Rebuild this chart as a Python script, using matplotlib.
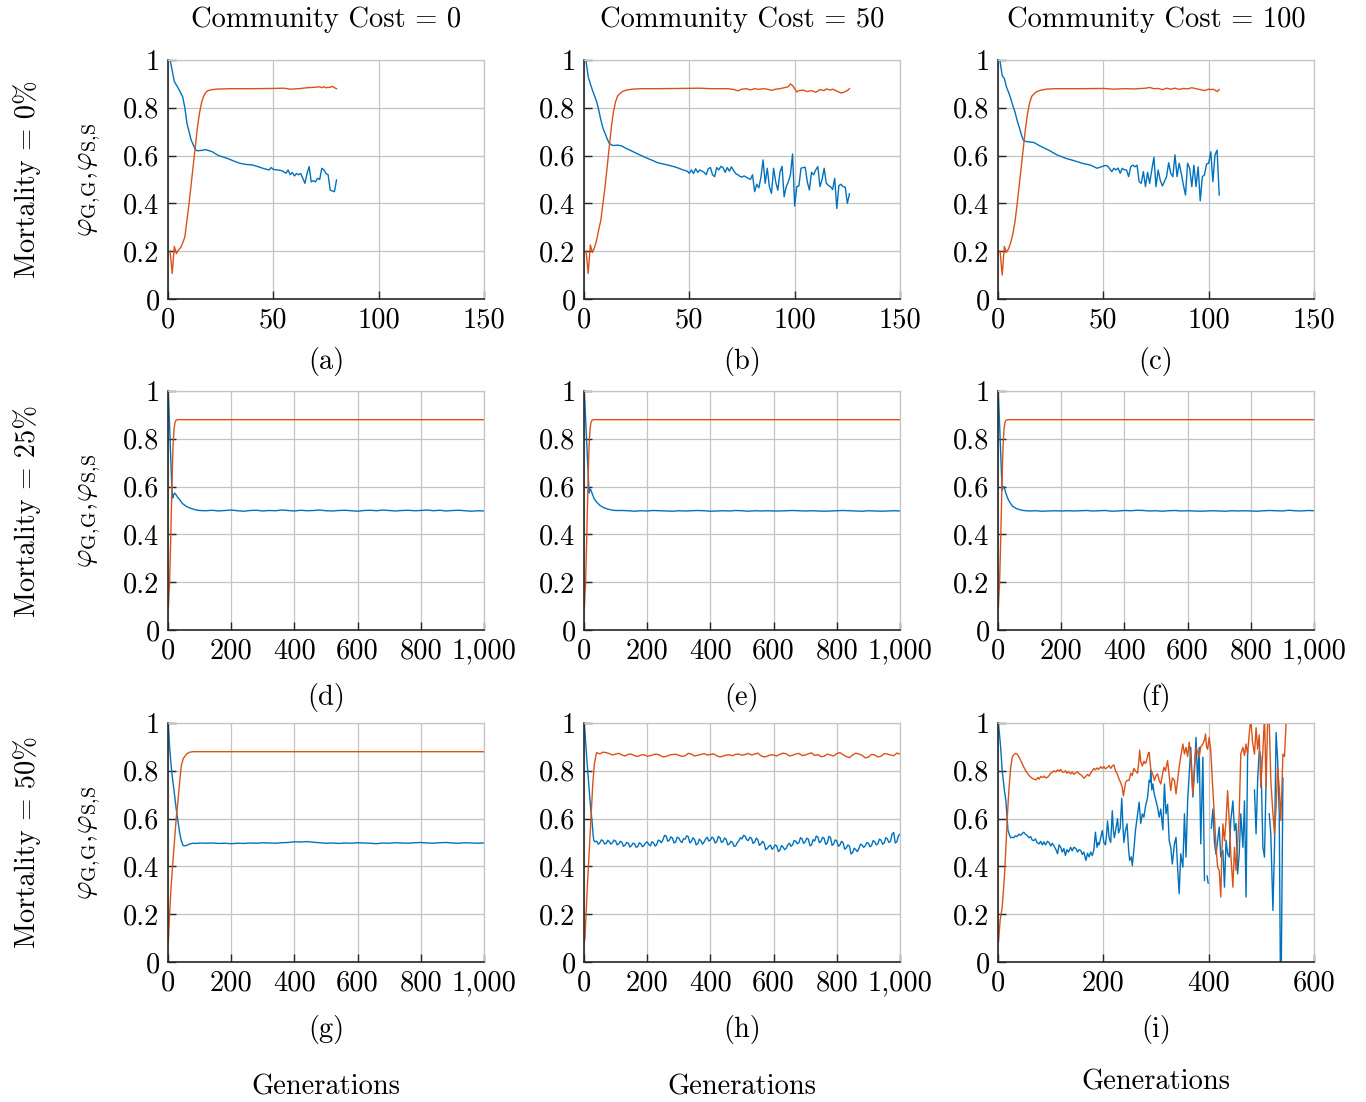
import numpy as np
import matplotlib.pyplot as plt

# MATLAB-style colours used in the original figure
BLUE = '#0072BD'
ORANGE = '#D95319'
GRID = '#c4c4c4'

# ---------------- data ----------------
# row 1 (mortality 0%), generations start at 1
a_gen_orange = [1, 2, 3, 4, 5, 6, 7, 8, 9, 10, 11, 12, 13, 14, 15, 16, 17, 18, 19, 21, 23, 26, 30, 40,
                50, 55, 58, 62, 66, 70, 72, 73, 74, 75, 77, 78, 79, 80]
a_orange = [0.20, 0.107, 0.22, 0.19, 0.205, 0.215, 0.235, 0.26, 0.33, 0.40, 0.48, 0.56, 0.64, 0.72,
            0.78, 0.825, 0.85, 0.865, 0.872, 0.876, 0.878, 0.879, 0.880, 0.880, 0.881, 0.882, 0.878,
            0.880, 0.884, 0.886, 0.888, 0.884, 0.888, 0.884, 0.886, 0.890, 0.884, 0.880]
a_gen_blue = [1, 3, 5, 7, 8, 9, 11, 13, 14, 16, 18, 21, 24, 28, 31, 34, 37, 40, 43, 45, 47, 48, 49, 50,
              52, 54, 56, 57, 58, 59, 60, 61, 62, 63, 64, 65, 66, 67, 68, 69, 70, 71, 72, 73, 74, 75,
              76, 77, 78, 79, 80]
a_blue = [1.0, 0.91, 0.88, 0.845, 0.80, 0.735, 0.665, 0.625, 0.62, 0.622, 0.625, 0.616, 0.60, 0.589,
          0.578, 0.568, 0.563, 0.561, 0.553, 0.547, 0.542, 0.54, 0.55, 0.542, 0.54, 0.537, 0.526,
          0.54, 0.52, 0.53, 0.515, 0.525, 0.52, 0.525, 0.505, 0.484, 0.525, 0.554, 0.49, 0.495, 0.49,
          0.505, 0.50, 0.547, 0.54, 0.525, 0.52, 0.456, 0.452, 0.449, 0.498]

b_gen_orange = [1, 2, 3, 4, 5, 6, 7, 8, 9, 10, 11, 12, 13, 14, 15, 16, 18, 20, 23, 27, 35, 45, 55, 60,
                68, 71, 73, 75, 77, 79, 81, 83, 85, 87, 89, 91, 93, 95, 97, 98, 99, 100, 101, 102, 104,
                106, 108, 110, 112, 114, 115, 117, 118, 120, 122, 123, 125, 126]
b_orange = [0.20, 0.107, 0.226, 0.195, 0.215, 0.247, 0.29, 0.33, 0.40, 0.47, 0.553, 0.637, 0.72, 0.784,
            0.826, 0.85, 0.867, 0.874, 0.878, 0.880, 0.880, 0.881, 0.882, 0.880, 0.880, 0.877, 0.871,
            0.878, 0.880, 0.875, 0.880, 0.877, 0.880, 0.878, 0.873, 0.878, 0.880, 0.884, 0.888, 0.900,
            0.893, 0.880, 0.866, 0.872, 0.874, 0.868, 0.872, 0.865, 0.876, 0.872, 0.879, 0.874, 0.878,
            0.870, 0.862, 0.864, 0.872, 0.880]
b_gen_blue = [1, 2, 3, 4, 5, 6, 7, 8, 9, 10, 11, 12, 13, 14, 16, 18, 20, 22, 25, 28, 30, 33, 35, 38, 40,
              43, 45, 47, 49] + list(range(50, 127))
b_blue = [0.993, 0.93, 0.90, 0.874, 0.85, 0.826, 0.79, 0.749, 0.715, 0.693, 0.67, 0.651, 0.645, 0.642,
          0.644, 0.64, 0.63, 0.622, 0.609, 0.597, 0.589, 0.578, 0.57, 0.564, 0.56, 0.553, 0.547, 0.54,
          0.535,
          0.526, 0.54, 0.525, 0.545, 0.53, 0.54, 0.535, 0.53, 0.52, 0.545,
          0.55, 0.52, 0.512, 0.55, 0.54, 0.555, 0.55, 0.53, 0.55, 0.535,
          0.553, 0.538, 0.525, 0.52, 0.513, 0.51, 0.515, 0.51, 0.505, 0.50,
          0.52, 0.449, 0.48, 0.465, 0.51, 0.582, 0.484, 0.547, 0.47, 0.442,
          0.547, 0.49, 0.455, 0.53, 0.555, 0.428, 0.47, 0.49, 0.52, 0.607,
          0.389, 0.47, 0.473, 0.547, 0.55, 0.551, 0.49, 0.456, 0.53, 0.52,
          0.54, 0.554, 0.47, 0.50, 0.547, 0.485, 0.475, 0.47, 0.458, 0.505,
          0.379, 0.475, 0.48, 0.47, 0.468, 0.40, 0.44]

c_gen_orange = [1, 2, 3, 4, 5, 6, 7, 8, 9, 10, 11, 12, 13, 14, 15, 16, 18, 20, 23, 27, 40, 50, 55, 60,
                65, 70, 72, 74, 76, 78, 80, 82, 84, 86, 88, 90, 92, 94, 96, 98, 100, 101, 102, 103,
                104, 105]
c_orange = [0.20, 0.10, 0.22, 0.195, 0.21, 0.235, 0.27, 0.32, 0.39, 0.47, 0.55, 0.63, 0.71, 0.775,
            0.82, 0.848, 0.866, 0.873, 0.878, 0.880, 0.880, 0.881, 0.878, 0.880, 0.879, 0.882, 0.885,
            0.880, 0.881, 0.876, 0.882, 0.878, 0.882, 0.877, 0.881, 0.879, 0.884, 0.880, 0.876,
            0.872, 0.878, 0.876, 0.878, 0.874, 0.868, 0.876]
c_gen_blue = [1, 2, 3, 4, 5, 6, 7, 8, 9, 10, 11, 12, 13, 14, 17, 20, 24, 28, 32, 36, 40, 44, 47, 49] + \
    list(range(51, 106))
c_blue = [0.993, 0.935, 0.923, 0.888, 0.865, 0.84, 0.81, 0.784, 0.75, 0.721, 0.69, 0.665, 0.66, 0.658,
          0.655, 0.64, 0.623, 0.603, 0.589, 0.579, 0.568, 0.56, 0.547, 0.553,
          0.559, 0.556, 0.545, 0.533, 0.547, 0.54, 0.548, 0.526, 0.547, 0.54,
          0.54, 0.512, 0.553, 0.56, 0.553, 0.56, 0.491, 0.484, 0.533, 0.47,
          0.53, 0.484, 0.54, 0.593, 0.47, 0.54, 0.498, 0.473, 0.491, 0.512,
          0.57, 0.526, 0.512, 0.603, 0.512, 0.568, 0.526, 0.477, 0.435, 0.568,
          0.547, 0.47, 0.56, 0.47, 0.553, 0.411, 0.512, 0.519, 0.565, 0.568,
          0.616, 0.491, 0.603, 0.623, 0.435]

# rows 2 and 3: long runs; the flat tails are read every 20 generations from 120 on
tail_gen = list(range(120, 1001, 20))

dd_gen_orange = [1, 3, 5, 8, 11, 14, 16, 19, 22, 25, 30, 100, 300, 500, 700, 900, 1000]
dd_orange = [0.09, 0.15, 0.196, 0.35, 0.52, 0.68, 0.77, 0.84, 0.868, 0.877, 0.880, 0.880, 0.880, 0.880,
             0.880, 0.880, 0.880]

d_gen_blue = [1, 12, 15, 18, 21, 25, 30, 37, 45, 58, 70, 79, 90, 100] + tail_gen
d_blue = [1.0, 0.60, 0.552, 0.565, 0.573, 0.567, 0.556, 0.545, 0.53, 0.517, 0.51, 0.506, 0.502, 0.50,
          0.499, 0.501, 0.498, 0.500, 0.502,
          0.499, 0.497, 0.500, 0.501, 0.498,
          0.500, 0.499, 0.502, 0.500, 0.498,
          0.501, 0.499, 0.500, 0.502, 0.499,
          0.498, 0.500, 0.501, 0.499, 0.497,
          0.500, 0.501, 0.499, 0.502, 0.500,
          0.498, 0.500, 0.501, 0.499, 0.500,
          0.502, 0.499, 0.501, 0.498, 0.500,
          0.501, 0.499, 0.497, 0.499, 0.498]

e_gen_blue = [1, 16, 19, 22, 26, 32, 40, 50, 62, 75, 85, 92, 100] + tail_gen
e_blue = [1.0, 0.573, 0.59, 0.585, 0.57, 0.55, 0.535, 0.522, 0.512, 0.506, 0.503, 0.501, 0.50,
          0.500, 0.499, 0.497, 0.499, 0.498,
          0.500, 0.499, 0.498, 0.497, 0.499,
          0.498, 0.499, 0.500, 0.499, 0.497,
          0.498, 0.499, 0.498, 0.500, 0.499,
          0.497, 0.499, 0.498, 0.499, 0.498,
          0.498, 0.499, 0.500, 0.499, 0.498,
          0.499, 0.498, 0.497, 0.498, 0.499,
          0.500, 0.499, 0.498, 0.497, 0.499,
          0.498, 0.497, 0.498, 0.499, 0.498]

f_gen_blue = [1, 13, 15, 18, 21, 25, 31, 38, 46, 58, 70, 80, 90, 100] + tail_gen
f_blue = [1.0, 0.585, 0.598, 0.60, 0.59, 0.572, 0.55, 0.533, 0.518, 0.508, 0.503, 0.500, 0.499, 0.498,
          0.499, 0.497, 0.498, 0.499, 0.498,
          0.499, 0.498, 0.499, 0.500, 0.498,
          0.499, 0.500, 0.497, 0.498, 0.500,
          0.499, 0.501, 0.500, 0.498, 0.499,
          0.497, 0.499, 0.500, 0.498, 0.499,
          0.498, 0.497, 0.498, 0.499, 0.498,
          0.497, 0.499, 0.498, 0.499, 0.498,
          0.497, 0.499, 0.500, 0.499, 0.498,
          0.501, 0.499, 0.498, 0.500, 0.499]

g_gen_orange = [1, 5, 10, 15, 21, 26, 32, 37, 42, 48, 53, 60, 69, 80, 300, 600, 1000]
g_orange = [0.084, 0.20, 0.32, 0.41, 0.515, 0.60, 0.68, 0.755, 0.82, 0.85, 0.86, 0.872, 0.878, 0.880,
            0.880, 0.880, 0.880]
g_gen_blue = [1, 5, 10, 15, 21, 26, 32, 37, 42, 48, 55, 62, 70, 80, 90, 100] + tail_gen
g_blue = [1.0, 0.90, 0.82, 0.76, 0.696, 0.64, 0.585, 0.54, 0.508, 0.487, 0.486, 0.490, 0.494, 0.497,
          0.496, 0.498,
          0.497, 0.498, 0.496, 0.497, 0.495,
          0.497, 0.496, 0.498, 0.497, 0.499,
          0.498, 0.497, 0.499, 0.500, 0.503,
          0.502, 0.504, 0.501, 0.499, 0.497,
          0.498, 0.496, 0.498, 0.497, 0.499,
          0.498, 0.497, 0.495, 0.498, 0.497,
          0.499, 0.498, 0.497, 0.499, 0.500,
          0.498, 0.497, 0.499, 0.500, 0.498,
          0.497, 0.499, 0.498, 0.497, 0.498]

# (h): read every 20 / 10 generations, plus the in-between readings of the jitter
h_gen_orange = [1, 3, 10, 16, 22, 28, 33, 38] + list(range(40, 1001, 20)) + list(range(50, 1000, 20))
h_orange = [0.084, 0.10, 0.30, 0.45, 0.60, 0.75, 0.83, 0.866,
            0.876, 0.878, 0.872, 0.870, 0.866, 0.869, 0.863, 0.866,
            0.861, 0.868, 0.865, 0.860, 0.868, 0.865, 0.863, 0.870, 0.865, 0.872,
            0.868, 0.863, 0.861, 0.867, 0.869, 0.865, 0.873, 0.870, 0.863, 0.861,
            0.866, 0.869, 0.871, 0.865, 0.873, 0.866, 0.875, 0.868, 0.861, 0.866,
            0.872, 0.867, 0.855, 0.874, 0.865, 0.857, 0.866, 0.861, 0.870, 0.863, 0.870,
            # in between
            0.871, 0.876, 0.866, 0.873, 0.862, 0.870, 0.860, 0.867,
            0.863, 0.870, 0.858, 0.866, 0.869, 0.860, 0.873, 0.862, 0.868, 0.866,
            0.871, 0.858, 0.866, 0.863, 0.870, 0.868, 0.866, 0.874, 0.858, 0.867,
            0.862, 0.874, 0.862, 0.870, 0.864, 0.871, 0.864, 0.859, 0.870, 0.862,
            0.876, 0.860, 0.866, 0.870, 0.854, 0.869, 0.858, 0.872, 0.866, 0.874]
h_gen_blue = [1, 10, 20, 26, 29, 31, 35] + list(range(40, 1001, 10)) + list(range(45, 1000, 10))
h_blue = [1.0, 0.83, 0.66, 0.58, 0.53, 0.508, 0.503,
          0.506, 0.498, 0.507, 0.496, 0.504, 0.499,
          0.506, 0.494, 0.501, 0.489, 0.498, 0.486, 0.495, 0.483, 0.494, 0.488,
          0.503, 0.486, 0.499, 0.491, 0.507, 0.512, 0.527, 0.510, 0.518, 0.502,
          0.519, 0.500, 0.514, 0.524, 0.505, 0.512, 0.495, 0.507, 0.502, 0.522,
          0.510, 0.517, 0.503, 0.521, 0.505, 0.513, 0.494, 0.500, 0.486, 0.507,
          0.515, 0.526, 0.508, 0.518, 0.502, 0.512, 0.494, 0.497, 0.475, 0.489,
          0.478, 0.486, 0.468, 0.481, 0.476, 0.497, 0.490, 0.506, 0.499, 0.515,
          0.503, 0.514, 0.490, 0.506, 0.523, 0.505, 0.517, 0.498, 0.521, 0.494,
          0.506, 0.490, 0.499, 0.477, 0.484, 0.458, 0.470, 0.475, 0.489, 0.486,
          0.497, 0.487, 0.503, 0.495, 0.510, 0.498, 0.515, 0.505, 0.542, 0.503, 0.535,
          # in between
          0.493, 0.511, 0.494, 0.509, 0.493, 0.510,
          0.490, 0.505, 0.484, 0.500, 0.481, 0.497, 0.480, 0.499, 0.482, 0.498,
          0.492, 0.503, 0.485, 0.510, 0.499, 0.530, 0.505, 0.524, 0.498, 0.522,
          0.506, 0.516, 0.528, 0.498, 0.520, 0.490, 0.514, 0.493, 0.515, 0.506,
          0.523, 0.498, 0.525, 0.500, 0.519, 0.490, 0.505, 0.484, 0.499, 0.520,
          0.530, 0.512, 0.522, 0.496, 0.518, 0.488, 0.505, 0.470, 0.484, 0.472,
          0.490, 0.462, 0.487, 0.470, 0.490, 0.484, 0.508, 0.495, 0.520, 0.496,
          0.518, 0.486, 0.512, 0.527, 0.499, 0.522, 0.492, 0.526, 0.488, 0.511,
          0.484, 0.505, 0.472, 0.490, 0.452, 0.476, 0.462, 0.493, 0.480, 0.500,
          0.482, 0.508, 0.490, 0.514, 0.493, 0.520, 0.500, 0.536, 0.498, 0.528]

nan = np.nan
i_gen_orange = [1, 4, 8, 12, 15, 18, 21, 24, 27, 31, 34, 37, 40, 45, 49, 54, 59, 64, 68, 72, 76, 78,
                81, 85, 88, 91, 94, 97, 100, 103, 106, 110, 113, 116, 119, 122, 125, 128, 131, 134,
                138, 141, 144, 148, 151, 154, 157, 160, 163, 166, 170, 173, 176, 179, 182, 185, 188,
                191, 195, 198, 201, 204, 208, 211, 214, 217, 220, 223, 226, 229, 233, 236, 238, 240,
                242, 245, 249, 252, 255, 258, 261, 265, 267, 269, 271, 274, 277, 280, 283, 285, 287,
                290, 293, 297, 300, 303, 306, 309, 312, 315, 318, 322, 325, 328, 331, 335, 338, 341,
                344, 347, 351, 354, 357, 360, 363, 366, 370, 373, 376, 379, 382, 385, 389, 392, 394,
                396, 398, 401, 404, 408, 411, 414, 417, 420, 423, 425, 427, 430, 433, 436, 439, 442,
                446, 449, 452, 455, 458, 461, 465, 468, 471, 474, 477, 480, 483, 487, 490, 493, 496,
                499, 503, 506, 509, 512, 515, 518, 522, 525, 528, 531, 534, 537, 541, 544, 547]
i_orange = [0.084, 0.174, 0.23, 0.35, 0.48, 0.62, 0.73, 0.81, 0.857, 0.870, 0.873, 0.868, 0.857,
            0.835, 0.815, 0.795, 0.78, 0.77, 0.765, 0.762, 0.772, 0.765, 0.776, 0.772, 0.778, 0.770,
            0.773, 0.78, 0.79, 0.794, 0.80, 0.795, 0.804, 0.798, 0.806, 0.795, 0.794, 0.80, 0.79,
            0.797, 0.787, 0.795, 0.785, 0.792, 0.796, 0.788, 0.784, 0.778, 0.769, 0.775, 0.785,
            0.778, 0.79, 0.80, 0.81, 0.804, 0.812, 0.806, 0.817, 0.81, 0.818, 0.808, 0.815, 0.822,
            0.81, 0.82, 0.825, 0.80, 0.79, 0.77, 0.75, 0.73, 0.695, 0.72, 0.75, 0.76, 0.76, 0.79,
            0.78, 0.81, 0.80, 0.79, 0.83, 0.886, 0.84, 0.82, 0.84, 0.83, 0.85, 0.87, 0.877, 0.808,
            0.79, 0.76, 0.78, 0.787, 0.76, 0.745, 0.78, 0.815, 0.80, 0.843, 0.78, 0.717, 0.77, 0.76,
            0.703, 0.76, 0.815, 0.86, 0.912, 0.87, 0.898, 0.86, 0.92, 0.85, 0.70, 0.82, 0.898, 0.88,
            0.857, 0.90, 0.912, 0.93, 0.954, 0.90, 0.89, 0.94, 0.884, 0.717, 0.606, 0.48, 0.397,
            0.383, 0.272, 0.45, 0.578, 0.508, 0.592, 0.717, 0.592, 0.453, 0.313, 0.48, 0.383, 0.50,
            0.62, 0.87, 0.898, 0.864, 0.912, 0.87, 0.954, 1.02, 0.926, 0.87, 0.98, 0.89, 0.95, 0.73,
            0.884, 1.03, 0.73, 1.02, 1.01, 0.76, 0.62, 0.536, 0.648, 0.815, 0.73, 0.592, 0.87, 0.86,
            1.0]
i_gen_blue = [1, 5, 8, 12, 15, 19, 22, 24, 27, 30, 33, 36, 40, 43, 46, 49, 52, 55, 59, 62, 65, 68, 71,
              74, 78, 81, 84, 87, 90, 94, 97, 100, 103, 106, 110, 113, 116, 119, 122, 125, 128, 131,
              134, 138, 141, 144, 148, 151, 154, 157, 160, 163, 167, 170, 173, 176, 179, 182, 185,
              188, 190, 192, 195, 198, 201, 204, 206, 208, 211, 214, 217, 219, 221, 224, 227, 229,
              232, 235, 237, 239, 242, 245, 248, 250, 253, 255, 258, 261, 264, 268, 271, 274, 277,
              280, 284, 287, 289, 290, 292, 294, 297, 300, 303, 306, 309, 313, 316, 319, 322, 325,
              328, 331, 335, 338, 341, 344, 347, 351, 354, 357, 360, 363, 366, 370, 373, 376, 379,
              382, 385, 389, 392, 394, 397, 399, 401, 405, 408, 411, 414, 417, 420, 423, 427, 430,
              433, 436, 439, 442, 446, 449, 452, 455, 458, 461, 465, 468, 471, 474, 476, 487, 490,
              493, 496, 499, 503, 506, 509, 511, 515, 518, 522, 525, 528, 531, 534, 536, 538, 541]
i_blue = [0.996, 0.90, 0.80, 0.72, 0.675, 0.55, 0.53, 0.52, 0.522, 0.52, 0.528, 0.525, 0.535, 0.53,
          0.538, 0.543, 0.535, 0.53, 0.52, 0.525, 0.51, 0.508, 0.515, 0.50, 0.494, 0.505, 0.49, 0.503,
          0.49, 0.505, 0.50, 0.485, 0.497, 0.487, 0.47, 0.453, 0.49, 0.48, 0.46, 0.475, 0.446, 0.47,
          0.46, 0.48, 0.465, 0.48, 0.475, 0.46, 0.47, 0.467, 0.45, 0.46, 0.425, 0.455, 0.44, 0.46,
          0.445, 0.47, 0.543, 0.48, 0.50, 0.49, 0.52, 0.55, 0.50, 0.49, 0.53, 0.59, 0.52, 0.50, 0.633,
          0.55, 0.52, 0.56, 0.60, 0.54, 0.56, 0.685, 0.58, 0.50, 0.55, 0.578, 0.47, 0.425, 0.44,
          0.404, 0.47, 0.55, 0.60, 0.669, 0.58, 0.62, 0.606, 0.65, 0.689, 0.76, 0.752, 0.80, 0.72,
          0.745, 0.70, 0.674, 0.646, 0.606, 0.64, 0.553, 0.745, 0.62, 0.66, 0.508, 0.48, 0.41, 0.494,
          0.522, 0.397, 0.286, 0.453, 0.397, 0.62, 0.439, 0.67, 0.787, 0.898, 0.69, 0.80, 0.94, 0.75,
          0.898, 0.494, 0.857, 0.341, nan, 0.36, 0.33, nan, 0.56, 0.64, 0.50, 0.45, 0.508, 0.564,
          0.439, 0.467, 0.313, 0.51, 0.453, 0.439, 0.592, 0.674, 0.55, 0.58, 0.369, 0.453, 0.62, 0.48,
          0.674, 0.272, 0.884, nan, 0.72, 0.536, 0.76, 0.884, 0.857, 0.48, 0.439, 0.76, nan, 0.62,
          0.536, 0.216, 0.48, 0.96, 0.843, 0.62, 0.0, 0.0, 0.77]

panels = [
    [(a_gen_orange, a_orange, a_gen_blue, a_blue),
     (b_gen_orange, b_orange, b_gen_blue, b_blue),
     (c_gen_orange, c_orange, c_gen_blue, c_blue)],
    [(dd_gen_orange, dd_orange, d_gen_blue, d_blue),
     (dd_gen_orange, dd_orange, e_gen_blue, e_blue),
     (dd_gen_orange, dd_orange, f_gen_blue, f_blue)],
    [(g_gen_orange, g_orange, g_gen_blue, g_blue),
     (h_gen_orange, h_orange, h_gen_blue, h_blue),
     (i_gen_orange, i_orange, i_gen_blue, i_blue)],
]
letters = ['(a)', '(b)', '(c)', '(d)', '(e)', '(f)', '(g)', '(h)', '(i)']
col_titles = ['Community Cost = 0', 'Community Cost = 50', 'Community Cost = 100']
row_titles = ['Mortality = 0%', 'Mortality = 25%', 'Mortality = 50%']
y_ticks = [0, 0.2, 0.4, 0.6, 0.8, 1]
y_labels = ['0', '0.2', '0.4', '0.6', '0.8', '1']
x_short = [0, 50, 100, 150]
x_long = [0, 200, 400, 600, 800, 1000]
x_long_labels = ['0', '200', '400', '600', '800', '1,000']
x_mid = [0, 200, 400, 600]


def sorted_series(gen, val):
    gen = np.asarray(gen, dtype=float)
    val = np.asarray(val, dtype=float)
    order = np.argsort(gen, kind='stable')
    return gen[order], val[order]


# ---------------- drawing ----------------
plt.rcParams['font.family'] = ['cmr10', 'DejaVu Serif']
plt.rcParams['mathtext.fontset'] = 'cm'
plt.rcParams['axes.formatter.use_mathtext'] = True
FS = 20.5

W, H = 1366, 1102
fig = plt.figure(figsize=(W / 100, H / 100), dpi=100)

col_left = [168, 584, 998]
row_top = [60, 391, 723]
aw, ah = 316, 239

for r in range(3):
    for c in range(3):
        ax = fig.add_axes([col_left[c] / W, 1 - (row_top[r] + ah) / H, aw / W, ah / H])
        go, yo, gb, yb = panels[r][c]
        ax.plot(*sorted_series(gb, yb), color=BLUE, lw=1.0)
        ax.plot(*sorted_series(go, yo), color=ORANGE, lw=1.0)
        ax.set_ylim(0, 1)
        ax.set_yticks(y_ticks)
        ax.set_yticklabels(y_labels)
        if r == 0:
            ax.set_xlim(0, 150)
            ax.set_xticks(x_short)
            ax.set_xticklabels([str(v) for v in x_short])
        elif r == 2 and c == 2:
            ax.set_xlim(0, 600)
            ax.set_xticks(x_mid)
            ax.set_xticklabels([str(v) for v in x_mid])
        else:
            ax.set_xlim(0, 1000)
            ax.set_xticks(x_long)
            ax.set_xticklabels(x_long_labels)
        ax.grid(True, color=GRID, lw=0.9)
        ax.set_axisbelow(True)
        for s in ['top', 'right']:
            ax.spines[s].set_color(GRID)
            ax.spines[s].set_linewidth(0.9)
        for s in ['left', 'bottom']:
            ax.spines[s].set_color('#262626')
            ax.spines[s].set_linewidth(1.2)
        ax.tick_params(direction='in', length=5.5, width=1.0, color='#262626',
                       labelsize=FS, pad=6)
        cx = (col_left[c] + aw / 2) / W
        sub_y = [362, 698, 1030][r]
        fig.text(cx, 1 - sub_y / H, letters[r * 3 + c], ha='center', va='center', fontsize=FS)

for c in range(3):
    cx = (col_left[c] + aw / 2) / W
    fig.text(cx, 1 - 20 / H, col_titles[c], ha='center', va='center', fontsize=FS)
    gy = 1082 if c == 2 else 1087
    fig.text(cx, 1 - gy / H, 'Generations', ha='center', va='center', fontsize=FS)

for r in range(3):
    cy = 1 - (row_top[r] + ah / 2) / H
    fig.text(27 / W, cy, row_titles[r], rotation=90, ha='center', va='center', fontsize=FS)
    fig.text(90 / W, cy, r'$\varphi_{\mathrm{G,\!G}},\!\varphi_{\mathrm{S,\!S}}$', rotation=90,
             ha='center', va='center', fontsize=FS)

fig.savefig('out.png', dpi=100)
